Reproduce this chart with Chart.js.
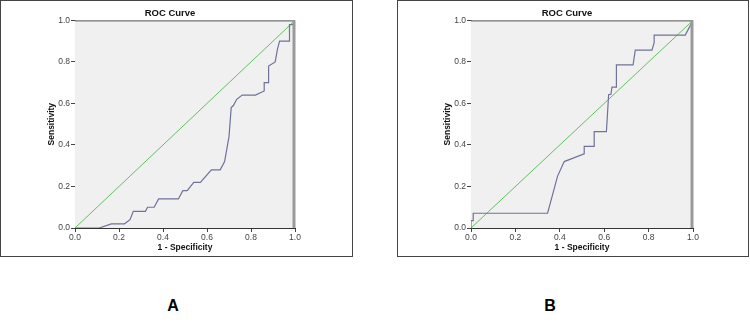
<!DOCTYPE html>
<html>
<head>
<meta charset="utf-8">
<script src="https://cdn.jsdelivr.net/npm/chart.js@4.4.1/dist/chart.umd.min.js"></script>
<style>
  body { margin: 0; background: #fff; width: 750px; height: 332px; position: relative; overflow: hidden; }
  .panel { position: absolute; top: 0; height: 257px; border: 1px solid #444; box-sizing: border-box; }
  canvas { position: absolute; top: 0; }
  .lbl { position: absolute; top: 297px; font: bold 16px "Liberation Sans", Arial, sans-serif; color: #000; width: 30px; text-align: center; }
</style>
</head>
<body>
<div class="panel" style="left:0; width:353px;"></div>
<div class="panel" style="left:397px; width:352px;"></div>
<canvas id="chartA" width="352" height="258" style="left:0;"></canvas>
<canvas id="chartB" width="351" height="258" style="left:397px;"></canvas>
<div class="lbl" style="left:158px;">A</div>
<div class="lbl" style="left:535px;">B</div>
<script>
// ROC curve A (1 - specificity, sensitivity)
var fprA = [0, 0.11, 0.165, 0.225, 0.25, 0.265, 0.32, 0.33, 0.36, 0.38, 0.47, 0.49, 0.51, 0.54, 0.57, 0.62, 0.66, 0.68, 0.69, 0.70, 0.71, 0.72, 0.735, 0.76, 0.82, 0.86, 0.86, 0.88, 0.88, 0.91, 0.92, 0.93, 0.975, 0.975, 1.0, 1.0];
var tprA = [0, 0, 0.02, 0.02, 0.04, 0.08, 0.08, 0.10, 0.10, 0.14, 0.14, 0.18, 0.18, 0.22, 0.22, 0.28, 0.28, 0.32, 0.38, 0.44, 0.58, 0.59, 0.62, 0.64, 0.64, 0.66, 0.70, 0.70, 0.78, 0.80, 0.86, 0.90, 0.90, 0.98, 0.98, 1.0];

// ROC curve B
var fprB = [0, 0, 0.01, 0.01, 0.345, 0.39, 0.42, 0.51, 0.51, 0.555, 0.555, 0.61, 0.62, 0.63, 0.635, 0.655, 0.655, 0.73, 0.74, 0.815, 0.825, 0.825, 0.965, 1.0];
var tprB = [0, 0.036, 0.036, 0.071, 0.071, 0.25, 0.32, 0.357, 0.393, 0.393, 0.464, 0.464, 0.643, 0.643, 0.679, 0.679, 0.786, 0.786, 0.857, 0.857, 0.893, 0.929, 0.929, 1.0];

// reference line
var refX = [0, 1];
var refY = [0, 1];

var tickValues = [0, 0.2, 0.4, 0.6, 0.8, 1.0];

var FONT = '"Liberation Sans", Arial, sans-serif';

function toPoints(xs, ys) {
    return xs.map(function(x, i) { return { x: x, y: ys[i] }; });
}

// grey plot background + top / right frame like SPSS
var plotFrame = {
    id: 'plotFrame',
    beforeDatasetsDraw: function(chart) {
        var a = chart.chartArea, ctx = chart.ctx;
        ctx.save();
        ctx.fillStyle = '#f0f0f0';
        ctx.fillRect(a.left, a.top, a.right - a.left, a.bottom - a.top);
        ctx.restore();
    },
    afterDatasetsDraw: function(chart) {
        var a = chart.chartArea, ctx = chart.ctx;
        ctx.save();
        ctx.strokeStyle = '#555';
        ctx.lineWidth = 1;
        ctx.beginPath();
        ctx.moveTo(a.left, a.top + 0.5);
        ctx.lineTo(a.right, a.top + 0.5);
        ctx.stroke();
        ctx.strokeStyle = '#9a9a9a';
        ctx.lineWidth = 3;
        ctx.beginPath();
        ctx.moveTo(a.right - 1, a.top);
        ctx.lineTo(a.right - 1, a.bottom);
        ctx.stroke();
        ctx.restore();
    }
};

function makeChart(id, xs, ys, padLeft, padRight) {
    var ctx = document.getElementById(id).getContext('2d');
    return new Chart(ctx, {
        type: 'scatter',
        data: {
            datasets: [{
                data: toPoints(xs, ys),
                showLine: true,
                borderColor: '#6f7299',
                borderWidth: 1.2,
                pointRadius: 0,
                tension: 0
            }, {
                data: toPoints(refX, refY),
                showLine: true,
                borderColor: '#5cc45c',
                borderWidth: 1,
                pointRadius: 0
            }]
        },
        options: {
            responsive: false,
            animation: false,
            layout: { padding: { left: padLeft, right: padRight, top: 0, bottom: 4 } },
            plugins: {
                legend: { display: false },
                tooltip: { enabled: false },
                title: {
                    display: true,
                    text: 'ROC Curve',
                    color: '#111',
                    font: { family: FONT, size: 9.5, weight: 'bold' },
                    padding: { top: 7.5, bottom: 1.5 }
                }
            },
            scales: {
                x: {
                    type: 'linear',
                    min: 0,
                    max: 1,
                    afterBuildTicks: function(scale) {
                        scale.ticks = tickValues.map(function(v) { return { value: v }; });
                    },
                    afterFit: function(scale) { scale.height = 26; },
                    ticks: {
                        callback: function(v) { return v.toFixed(1); },
                        font: { family: FONT, size: 8.5 },
                        color: '#444',
                        padding: 1,
                        maxRotation: 0
                    },
                    grid: { drawOnChartArea: false, drawTicks: true, tickLength: 4, color: '#444' },
                    border: { display: true, color: '#333', width: 1 },
                    title: {
                        display: true,
                        text: '1 - Specificity',
                        color: '#111',
                        font: { family: FONT, size: 8.5, weight: 'bold' },
                        padding: { top: 0, bottom: 1 }
                    }
                },
                y: {
                    type: 'linear',
                    min: 0,
                    max: 1,
                    afterBuildTicks: function(scale) {
                        scale.ticks = tickValues.map(function(v) { return { value: v }; });
                    },
                    afterFit: function(scale) { scale.width = 30; },
                    ticks: {
                        callback: function(v) { return v.toFixed(1); },
                        font: { family: FONT, size: 8.5 },
                        color: '#444',
                        padding: 1
                    },
                    grid: { drawOnChartArea: false, drawTicks: true, tickLength: 4, color: '#444' },
                    border: { display: true, color: '#333', width: 1 },
                    title: {
                        display: true,
                        text: 'Sensitivity',
                        color: '#111',
                        font: { family: FONT, size: 8.5, weight: 'bold' },
                        padding: { top: 2, bottom: 0 }
                    }
                }
            }
        },
        plugins: [plotFrame]
    });
}

makeChart('chartA', fprA, tprA, 45, 57);
makeChart('chartB', fprB, tprB, 44, 55);
</script>
</body>
</html>
